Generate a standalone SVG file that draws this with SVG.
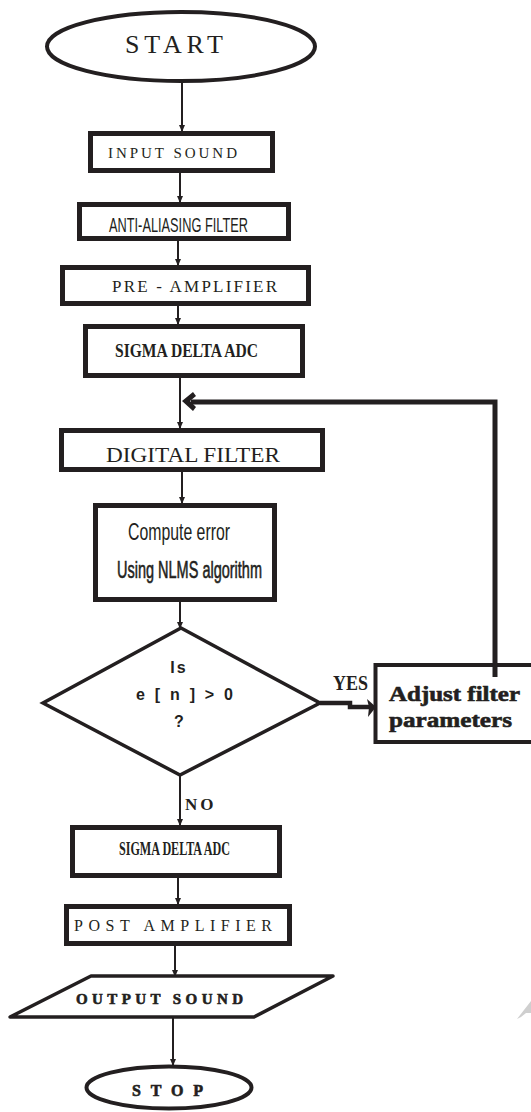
<svg xmlns="http://www.w3.org/2000/svg" width="531" height="1112" viewBox="0 0 531 1112">
<defs>
<style>
.box{fill:#fff;stroke:#231f20;stroke-width:5}
.thin{fill:none;stroke:#231f20;stroke-width:2}
.serif{font-family:"Liberation Serif","Times New Roman",serif;fill:#231f20}
.sans{font-family:"Liberation Sans",Arial,sans-serif;fill:#231f20}
</style>
<marker id="ah" markerUnits="userSpaceOnUse" markerWidth="8" markerHeight="6" refX="7" refY="3" orient="auto">
<path d="M0,0 L7,3 L0,6 Z" fill="#231f20"/>
</marker>
</defs>
<rect width="531" height="1112" fill="#fff"/>

<g id="connectors">
<line class="thin" x1="182" y1="83" x2="182" y2="132" marker-end="url(#ah)"/>
<line class="thin" x1="180" y1="173" x2="180" y2="203" marker-end="url(#ah)"/>
<line class="thin" x1="178" y1="230" x2="178" y2="266" marker-end="url(#ah)"/>
<line class="thin" x1="178" y1="293" x2="178" y2="325" marker-end="url(#ah)"/>
<line class="thin" x1="180" y1="378" x2="180" y2="429" marker-end="url(#ah)"/>
<line class="thin" x1="182" y1="472" x2="182" y2="504" marker-end="url(#ah)"/>
<line class="thin" x1="180" y1="594" x2="180" y2="629" marker-end="url(#ah)"/>
<line class="thin" x1="180" y1="775" x2="180" y2="826" marker-end="url(#ah)"/>
<line class="thin" x1="178" y1="873" x2="178" y2="905" marker-end="url(#ah)"/>
<line class="thin" x1="175" y1="946" x2="175" y2="977" marker-end="url(#ah)"/>
<line class="thin" x1="173" y1="1017" x2="173" y2="1066" marker-end="url(#ah)"/>
<polyline points="495,677 495,402 191,402" fill="none" stroke="#231f20" stroke-width="5"/>
<polygon points="182,401 193,392 196,396 190,401 196,407 193,411" fill="#231f20"/>
<polyline points="320,703 350,703 350,707 370,707" fill="none" stroke="#231f20" stroke-width="4.5"/>
<polygon points="367,699 376,707 368,717 369,707" fill="#231f20"/>
<text class="serif" x="333" y="690" font-size="22" font-weight="bold" textLength="35" lengthAdjust="spacingAndGlyphs">YES</text>
<text class="serif" x="185" y="810" font-size="17" font-weight="bold" letter-spacing="3">NO</text>
</g>

<g id="start">
<ellipse cx="181" cy="46.5" rx="134" ry="34.5" fill="#fff" stroke="#231f20" stroke-width="4"/>
<text class="serif" x="125" y="53" font-size="26" textLength="98">START</text>
</g>

<g id="input-sound">
<rect class="box" x="90.5" y="133.5" width="182" height="37"/>
<text class="serif" x="108" y="158" font-size="15" textLength="129">INPUT SOUND</text>
</g>

<g id="anti-aliasing">
<rect class="box" x="79.5" y="204.5" width="209" height="34"/>
<text class="sans" x="109" y="232" font-size="21" textLength="139" lengthAdjust="spacingAndGlyphs">ANTI-ALIASING FILTER</text>
</g>

<g id="pre-amplifier">
<rect class="box" x="62.5" y="267.5" width="246" height="36"/>
<text class="serif" x="112" y="292" font-size="17" textLength="165">PRE - AMPLIFIER</text>
</g>

<g id="sigma-delta-adc">
<rect class="box" x="85.5" y="326.5" width="217" height="49"/>
<text class="serif" x="115" y="357" font-size="19" font-weight="bold" textLength="143" lengthAdjust="spacingAndGlyphs">SIGMA DELTA ADC</text>
</g>

<g id="digital-filter">
<rect class="box" x="61.5" y="430.5" width="261" height="39"/>
<text class="serif" x="106" y="462" font-size="22" textLength="174" lengthAdjust="spacingAndGlyphs">DIGITAL FILTER</text>
</g>

<g id="compute-error">
<rect class="box" x="95.5" y="505.5" width="179" height="94"/>
<text class="sans" x="128" y="540" font-size="24" textLength="102" lengthAdjust="spacingAndGlyphs">Compute error</text>
<text class="sans" x="117" y="578" font-size="24" stroke="#231f20" stroke-width="0.6" textLength="145" lengthAdjust="spacingAndGlyphs">Using NLMS algorithm</text>
</g>

<g id="decision">
<polygon points="181,628 320,703 180,775 43,703" fill="#fff" stroke="#231f20" stroke-width="3.5" stroke-linejoin="miter"/>
<text class="sans" x="179" y="673" font-size="16" font-weight="bold" text-anchor="middle" letter-spacing="2">Is</text>
<text class="sans" x="136" y="700" font-size="16" font-weight="bold" textLength="97">e [ n ] &gt; 0</text>
<text class="sans" x="179" y="727" font-size="16" font-weight="bold" text-anchor="middle">?</text>
</g>

<g id="adjust-filter">
<rect x="375.5" y="665" width="170" height="77" fill="#fff" stroke="#231f20" stroke-width="4"/>
<line x1="495" y1="663" x2="495" y2="677" stroke="#231f20" stroke-width="5"/>
<text class="serif" x="389" y="701" font-size="22" font-weight="bold" stroke="#231f20" stroke-width="0.6" textLength="131" lengthAdjust="spacingAndGlyphs">Adjust filter</text>
<text class="serif" x="389" y="727" font-size="22" font-weight="bold" stroke="#231f20" stroke-width="0.6" textLength="123" lengthAdjust="spacingAndGlyphs">parameters</text>
</g>

<g id="sigma-delta-adc-2">
<rect class="box" x="72.5" y="827.5" width="207" height="48"/>
<text class="serif" x="119" y="855" font-size="18" font-weight="bold" textLength="111" lengthAdjust="spacingAndGlyphs">SIGMA DELTA ADC</text>
</g>

<g id="post-amplifier">
<rect class="box" x="66.5" y="906.5" width="223" height="37"/>
<text class="serif" x="74" y="931" font-size="16" textLength="198">POST AMPLIFIER</text>
</g>

<g id="output-sound">
<polygon points="91,976 333,976 254,1017 10,1017" fill="#fff" stroke="#231f20" stroke-width="3.5" stroke-linejoin="round"/>
<text class="serif" x="76" y="1004" font-size="15" font-weight="bold" stroke="#231f20" stroke-width="0.6" textLength="167">OUTPUT SOUND</text>
</g>

<g id="stop">
<ellipse cx="169" cy="1087.5" rx="82.5" ry="21" fill="#fff" stroke="#231f20" stroke-width="4"/>
<text class="serif" x="132" y="1096" font-size="16" font-weight="bold" stroke="#231f20" stroke-width="0.6" textLength="71">STOP</text>
</g>

<polygon points="517,1019 531,1001 531,1013 526,1013 521,1017" fill="#cfcfcf"/>
</svg>
